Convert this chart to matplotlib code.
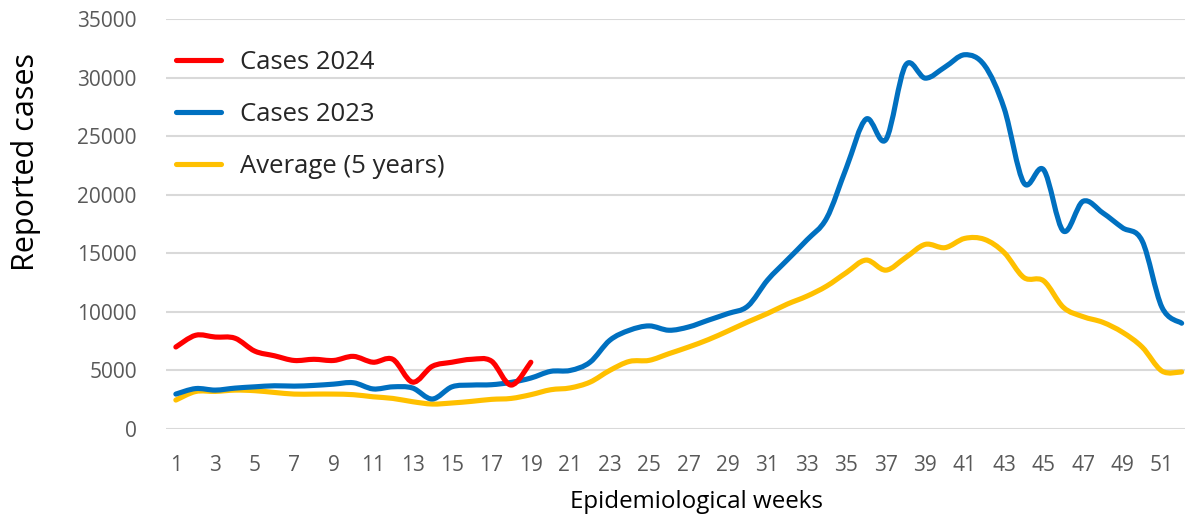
import matplotlib.pyplot as plt
import numpy as np
from matplotlib.path import Path
from matplotlib.patches import PathPatch
from matplotlib.lines import Line2D

plt.rcParams['font.family'] = ['Open Sans', 'DejaVu Sans']

# weekly reported cases
weeks = list(range(1, 53))
weeks_2024 = list(range(1, 20))
cases_2024 = [7000, 8000, 7850, 7750, 6650, 6250, 5850, 5950, 5850, 6200,
              5700, 5950, 4000, 5350, 5700, 5950, 5800, 3750, 5700]
cases_2023 = [2980, 3450, 3320, 3490, 3600, 3690, 3660, 3720, 3830, 3950,
              3420, 3600, 3500, 2560, 3600, 3750, 3780, 3980, 4350, 4920,
              5000, 5700, 7570, 8430, 8800, 8430, 8710, 9290, 9860, 10490,
              12710, 14430, 16140, 18000, 22300, 26460, 24700, 31050, 29950, 30900,
              31950, 31050, 27370, 21000, 22130, 16900, 19440, 18450, 17180, 16050,
              10390, 9030]
average_5y = [2470, 3200, 3210, 3320, 3270, 3120, 2980, 2980, 2980, 2930,
              2750, 2610, 2330, 2130, 2220, 2360, 2530, 2610, 2930, 3350,
              3510, 4000, 5000, 5770, 5860, 6430, 7000, 7630, 8370, 9140,
              9860, 10660, 11340, 12200, 13350, 14420, 13560, 14630, 15760, 15480,
              16270, 16190, 15060, 12930, 12650, 10390, 9590, 9110, 8260, 6990,
              4950, 4870]

labels = ['Cases 2024', 'Cases 2023', 'Average (5 years)']
colors = ['#FF0000', '#0070C0', '#FFC000']


def smooth_path(x, y):
    # bezier through the points, like a spreadsheet "smoothed line"
    x = np.asarray(x, float)
    y = np.asarray(y, float)
    n = len(x)
    verts = [(x[0], y[0])]
    codes = [Path.MOVETO]
    for i in range(n - 1):
        a = i - 1 if i > 0 else i
        b = i + 2 if i + 2 < n else i + 1
        c1 = (x[i] + (x[i + 1] - x[a]) / 6, y[i] + (y[i + 1] - y[a]) / 6)
        c2 = (x[i + 1] - (x[b] - x[i]) / 6, y[i + 1] - (y[b] - y[i]) / 6)
        verts += [c1, c2, (x[i + 1], y[i + 1])]
        codes += [Path.CURVE4] * 3
    return Path(verts, codes)


fig = plt.figure(figsize=(11.85, 5.21), dpi=100)
ax = fig.add_axes([166 / 1185, 1 - 429 / 521, 1 - 166 / 1185, (429 - 19) / 521])

series = [(weeks_2024, cases_2024), (weeks, cases_2023), (weeks, average_5y)]
for (xs, ys), c in zip(series[::-1], colors[::-1]):
    ax.add_patch(PathPatch(smooth_path(xs, ys), facecolor='none', edgecolor=c,
                           lw=3.7, capstyle='round', joinstyle='round', zorder=3))

ax.set_xlim(0.5, 52.17)
ax.set_ylim(0, 35000)
ax.set_xticks(weeks[::2])
ax.set_yticks(range(0, 35001, 5000))
ax.grid(axis='y', color='#D9D9D9', lw=1.5)
ax.set_axisbelow(True)
for s in ax.spines.values():
    s.set_visible(False)
ax.tick_params(axis='x', length=0, pad=19, labelsize=15, labelcolor='#595959')
ax.tick_params(axis='y', length=0, pad=21, labelsize=15, labelcolor='#595959')

handles = [Line2D([], [], color=c, lw=3.7, solid_capstyle='round') for c in colors]
fig.legend(handles, labels, loc='upper left', bbox_to_anchor=(153 / 1185, 1 - 27 / 521),
           frameon=False, fontsize=18.5, labelcolor='#262626', handlelength=1.75,
           handletextpad=0.75, labelspacing=1.05)

fig.text(26 / 1185, 1 - 162 / 521, 'Reported cases', rotation=90,
         ha='center', va='center', fontsize=22, color='#000000')
fig.text(696 / 1185, 1 - 502 / 521, 'Epidemiological weeks',
         ha='center', va='center', fontsize=17.4, color='#000000')

fig.savefig('out.png', dpi=100)
